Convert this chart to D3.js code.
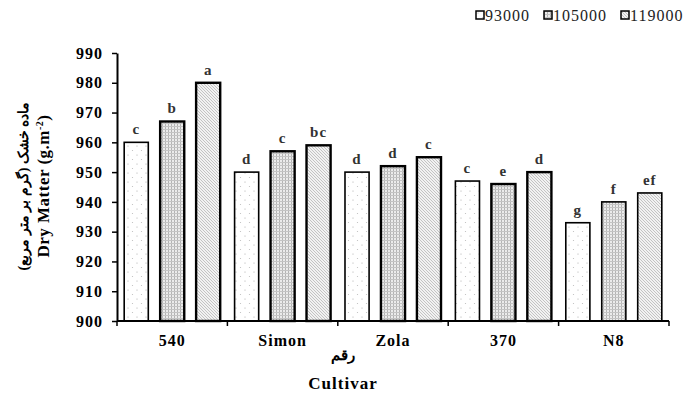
<!DOCTYPE html>
<html>
<head>
<meta charset="utf-8">
<script src="https://cdn.jsdelivr.net/npm/d3@7"></script>
<style>
  body { margin: 0; background: #fff; }
  svg { display: block; }
  svg text { font-family: 'Liberation Serif', 'DejaVu Serif', serif; }
</style>
</head>
<body>
<div id="chart"></div>
<script>
const cultivars = ['540', 'Simon', 'Zola', '370', 'N8'];
const densities = ['93000', '105000', '119000'];
const values93 = [960, 950, 950, 947, 933];
const values105 = [967, 957, 952, 946, 940];
const values119 = [980, 959, 955, 950, 943];
const letters93 = ['c', 'd', 'd', 'c', 'g'];
const letters105 = ['b', 'c', 'd', 'e', 'f'];
const letters119 = ['a', 'bc', 'c', 'd', 'ef'];
const yTicks = [900, 910, 920, 930, 940, 950, 960, 970, 980, 990];

const width = 690, height = 407;
const margin = { top: 53, right: 21, bottom: 86, left: 117 };

const svg = d3.select('#chart')
    .append('svg')
    .attr('width', width)
    .attr('height', height);

// fill patterns for the three densities
const defs = svg.append('defs');

const p1 = defs.append('pattern').attr('id', 'pat0')
    .attr('patternUnits', 'userSpaceOnUse').attr('width', 9).attr('height', 9);
p1.append('rect').attr('width', 9).attr('height', 9).attr('fill', '#fff');
p1.append('circle').attr('cx', 2).attr('cy', 2).attr('r', 0.6).attr('fill', '#aaa');
p1.append('circle').attr('cx', 6.5).attr('cy', 6.5).attr('r', 0.6).attr('fill', '#bbb');

const p2 = defs.append('pattern').attr('id', 'pat1')
    .attr('patternUnits', 'userSpaceOnUse').attr('width', 3).attr('height', 3);
p2.append('rect').attr('width', 3).attr('height', 3).attr('fill', '#ececec');
p2.append('rect').attr('width', 1).attr('height', 3).attr('fill', '#b4b4b4');
p2.append('rect').attr('width', 3).attr('height', 1).attr('fill', '#c4c4c4');

const p3 = defs.append('pattern').attr('id', 'pat2')
    .attr('patternUnits', 'userSpaceOnUse').attr('width', 3).attr('height', 3);
p3.append('rect').attr('width', 3).attr('height', 3).attr('fill', '#f2f2f2');
p3.append('path').attr('d', 'M0,0 L3,3').attr('stroke', '#b8b8b8').attr('stroke-width', 0.8);

const x0 = d3.scaleBand()
    .domain(cultivars)
    .range([margin.left, width - margin.right])
    .paddingInner(0)
    .paddingOuter(0);

const x1 = d3.scaleBand()
    .domain(densities)
    .range([0, x0.bandwidth()])
    .paddingInner(0.33)
    .paddingOuter(0.2);

const y = d3.scaleLinear()
    .domain([900, 990])
    .range([height - margin.bottom, margin.top]);

const series = [values93, values105, values119];
const letterSets = [letters93, letters105, letters119];

const rows = [];
cultivars.forEach((c, i) => {
    densities.forEach((d, j) => {
        rows.push({ cultivar: c, density: d, j: j, value: series[j][i], letter: letterSets[j][i] });
    });
});

svg.selectAll('rect.bar')
    .data(rows)
    .enter()
    .append('rect')
    .attr('class', 'bar')
    .attr('x', d => x0(d.cultivar) + x1(d.density))
    .attr('y', d => y(d.value))
    .attr('width', x1.bandwidth())
    .attr('height', d => y(900) - y(d.value))
    .attr('fill', d => 'url(#pat' + d.j + ')')
    .attr('stroke', '#000')
    .attr('stroke-width', d => d.cultivar === 'N8' ? 1.6 : (d.j === 0 ? 1.6 : 2.4));

svg.selectAll('text.letter')
    .data(rows)
    .enter()
    .append('text')
    .attr('class', 'letter')
    .attr('x', d => x0(d.cultivar) + x1(d.density) + x1.bandwidth() / 2)
    .attr('y', d => y(d.value) - 8)
    .attr('text-anchor', 'middle')
    .style('font-weight', 'bold')
    .style('font-size', '15px')
    .style('letter-spacing', '1px')
    .style('fill', '#333')
    .text(d => d.letter);

// y axis
const yAxis = svg.append('g')
    .attr('transform', `translate(${margin.left},0)`)
    .call(d3.axisLeft(y).tickValues(yTicks).tickSize(5).tickSizeOuter(0).tickPadding(9));
yAxis.select('.domain').attr('stroke-width', 2);
yAxis.selectAll('.tick line').attr('stroke-width', 1.5);
yAxis.selectAll('text')
    .attr('font-family', null)
    .attr('font-size', null)
    .style('font-weight', 'bold')
    .style('font-size', '16px')
    .style('letter-spacing', '1px')
    .style('fill', '#000');

// x axis, ticks at group boundaries
const bounds = cultivars.map(c => x0(c)).concat([width - margin.right]);
const xg = svg.append('g');
xg.append('line')
    .attr('x1', margin.left).attr('x2', width - margin.right)
    .attr('y1', y(900)).attr('y2', y(900))
    .attr('stroke', '#000').attr('stroke-width', 2);
xg.selectAll('line.tk')
    .data(bounds)
    .enter()
    .append('line')
    .attr('class', 'tk')
    .attr('x1', d => d).attr('x2', d => d)
    .attr('y1', y(900)).attr('y2', y(900) + 5)
    .attr('stroke', '#000').attr('stroke-width', 1.5);
xg.selectAll('text')
    .data(cultivars)
    .enter()
    .append('text')
    .attr('x', d => x0(d) + x0.bandwidth() / 2)
    .attr('y', y(900) + 25)
    .attr('text-anchor', 'middle')
    .style('font-weight', 'bold')
    .style('font-size', '16px')
    .style('letter-spacing', '1px')
    .text(d => d);

// axis titles
svg.append('text')
    .attr('x', 343).attr('y', 360)
    .attr('text-anchor', 'middle')
    .style('font-weight', 'bold')
    .style('font-size', '15px')
    .text('رقم');
svg.append('text')
    .attr('x', 343).attr('y', 389)
    .attr('text-anchor', 'middle')
    .style('font-weight', 'bold')
    .style('font-size', '17px')
    .style('letter-spacing', '1px')
    .text('Cultivar');

const yl = svg.append('g').attr('transform', 'translate(0,186) rotate(-90)');
yl.append('text')
    .attr('x', 0).attr('y', 28)
    .attr('text-anchor', 'middle')
    .style('font-weight', 'bold')
    .style('font-size', '14px')
    .text('ماده خشک (گرم بر متر مربع)');
const t2 = yl.append('text')
    .attr('x', 0).attr('y', 49)
    .attr('text-anchor', 'middle')
    .style('font-weight', 'bold')
    .style('font-size', '17px')
    .style('letter-spacing', '0.5px');
t2.append('tspan').text('Dry Matter (g.m');
t2.append('tspan').attr('dy', -6).style('font-size', '10px').text('-2');
t2.append('tspan').attr('dy', 6).text(')');

// legend
const legendX = [476, 544, 621];
const lg = svg.selectAll('g.legend')
    .data(densities)
    .enter()
    .append('g')
    .attr('class', 'legend')
    .attr('transform', (d, i) => `translate(${legendX[i]},11)`);
lg.append('rect')
    .attr('width', 8).attr('height', 8)
    .attr('fill', (d, i) => 'url(#pat' + i + ')')
    .attr('stroke', '#000').attr('stroke-width', 1.5);
lg.append('text')
    .attr('x', 9).attr('y', 9.5)
    .style('font-size', '16px')
    .style('letter-spacing', '1px')
    .style('fill', '#222')
    .text(d => d);
</script>
</body>
</html>
